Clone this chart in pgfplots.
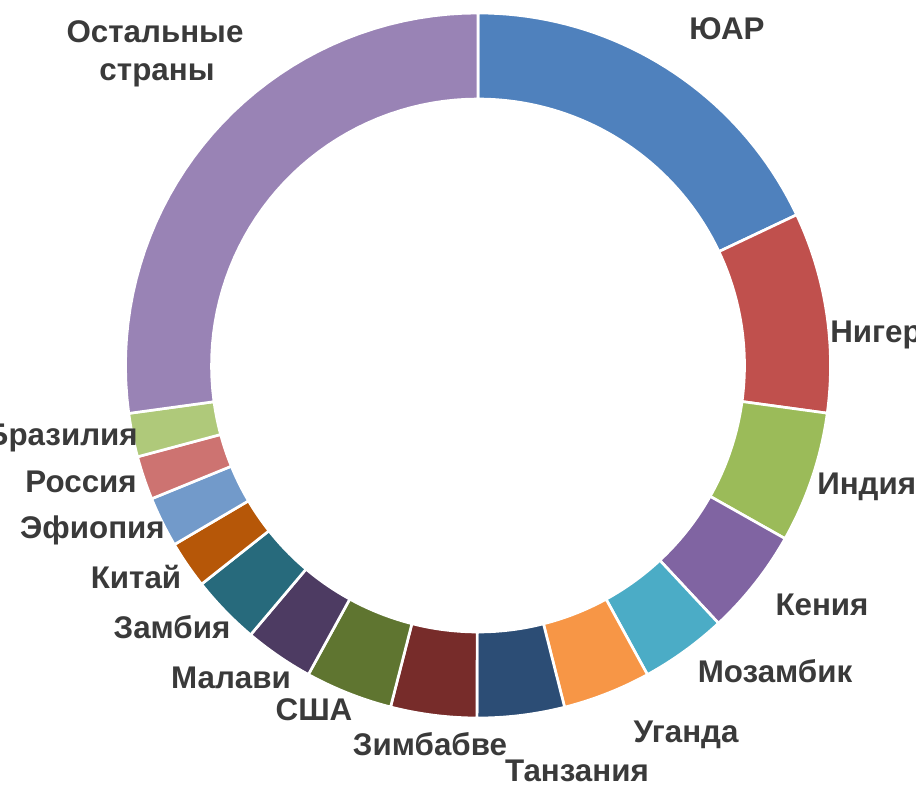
\documentclass[border=0pt]{standalone}
\usepackage{pgfplots}
\pgfplotsset{compat=1.18}
\usepackage{fontspec}
\setmainfont{Liberation Sans}
\definecolor{c1}{HTML}{4F81BD}
\definecolor{c2}{HTML}{C0504D}
\definecolor{c3}{HTML}{9BBB59}
\definecolor{c4}{HTML}{8064A2}
\definecolor{c5}{HTML}{4BACC6}
\definecolor{c6}{HTML}{F79646}
\definecolor{c7}{HTML}{2C4D75}
\definecolor{c8}{HTML}{772C2A}
\definecolor{c9}{HTML}{5F7530}
\definecolor{c10}{HTML}{4D3B62}
\definecolor{c11}{HTML}{276A7C}
\definecolor{c12}{HTML}{B65708}
\definecolor{c13}{HTML}{729ACA}
\definecolor{c14}{HTML}{CD7371}
\definecolor{c15}{HTML}{AFC97A}
\definecolor{c16}{HTML}{9983B5}
\definecolor{lbl}{HTML}{3A3A3A}
\tikzset{lab/.style={font=\bfseries\fontsize{23.5}{27}\selectfont, text=lbl, inner sep=0pt}}
\newcommand\cum{0}
\newcommand\sector[2]{%
  \pgfmathsetmacro\sa{\cum*3.6}%
  \pgfmathsetmacro\sb{(\cum+#1)*3.6}%
  \pgfmathsetmacro\newcum{\cum+#1}%
  \xdef\cum{\newcum}%
  \edef\doplot{\noexpand\addplot[fill=#2, draw=white, line width=2pt, domain=0:81, samples=82, variable=\noexpand\t]
   ({478+ifthenelse(\noexpand\t<40.5,352.5,266.5)*sin(ifthenelse(\noexpand\t<40.5,\sa+(\sb-\sa)*\noexpand\t/40,\sb-(\sb-\sa)*(\noexpand\t-41)/40))},
    {419.5+ifthenelse(\noexpand\t<40.5,352.5,266.5)*cos(ifthenelse(\noexpand\t<40.5,\sa+(\sb-\sa)*\noexpand\t/40,\sb-(\sb-\sa)*(\noexpand\t-41)/40))}) -- cycle;}%
  \doplot
}
\begin{document}
\begin{tikzpicture}
\begin{axis}[
  at={(0,0)}, anchor=south west,
  scale only axis, width=687pt, height=588.75pt,
  xmin=0, xmax=916, ymin=0, ymax=785,
  hide axis, clip=false,
]
\sector{17.97}{c1}
\sector{9.19}{c2}
\sector{6.01}{c3}
\sector{4.88}{c4}
\sector{3.97}{c5}
\sector{4.03}{c6}
\sector{4.00}{c7}
\sector{3.94}{c8}
\sector{4.00}{c9}
\sector{3.17}{c10}
\sector{3.19}{c11}
\sector{2.17}{c12}
\sector{2.31}{c13}
\sector{2.00}{c14}
\sector{2.00}{c15}
\sector{27.17}{c16}
\node[lab, anchor=base] at (axis cs:155,742) {Остальные};
\node[lab, anchor=base] at (axis cs:157,704) {страны};
\node[lab, anchor=base] at (axis cs:727,745) {ЮАР};
\node[lab, anchor=base west] at (axis cs:830,442) {Нигер};
\node[lab, anchor=base west] at (axis cs:817,290) {Индия};
\node[lab, anchor=base] at (axis cs:822,170) {Кения};
\node[lab, anchor=base] at (axis cs:775,103) {Мозамбик};
\node[lab, anchor=base] at (axis cs:686,43) {Уганда};
\node[lab, anchor=base] at (axis cs:577,4) {Танзания};
\node[lab, anchor=base] at (axis cs:430,30) {Зимбабве};
\node[lab, anchor=base] at (axis cs:314,65) {США};
\node[lab, anchor=base] at (axis cs:231,97) {Малави};
\node[lab, anchor=base] at (axis cs:172,147) {Замбия};
\node[lab, anchor=base] at (axis cs:136,197) {Китай};
\node[lab, anchor=base east] at (axis cs:165,247) {Эфиопия};
\node[lab, anchor=base east] at (axis cs:137,292) {Россия};
\node[lab, anchor=base east] at (axis cs:138,339) {Бразилия};
\end{axis}
\pgfresetboundingbox
\useasboundingbox (0,0) rectangle (687pt,588.75pt);
\end{tikzpicture}
\end{document}
